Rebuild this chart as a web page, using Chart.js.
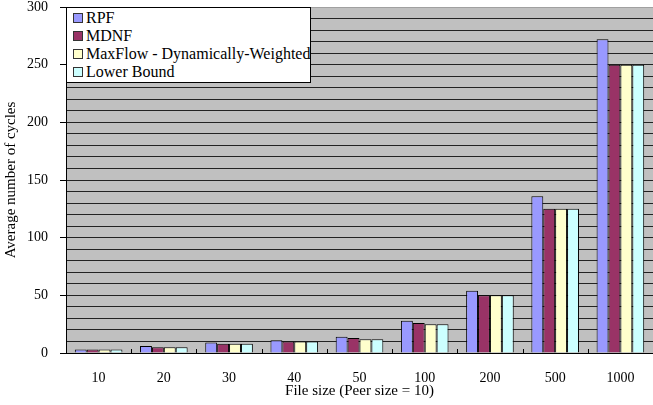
<!DOCTYPE html>
<html lang="en">
<head>
    <meta charset="UTF-8">
    <title>Average number of cycles</title>
    <script src="https://cdn.jsdelivr.net/npm/chart.js"></script>
    <style>
        body { margin: 0; background: #fff; }
        #wrap { position: relative; width: 653px; height: 405px; }
        #legend {
            position: absolute; left: 66px; top: 7px; width: 245px; height: 76px;
            box-sizing: border-box; background: #fff; border: 1px solid #000;
            padding: 1px 0 0 6px; font-family: "Liberation Serif", serif; font-size: 16px; color: #000;
        }
        #legend div { height: 18px; line-height: 18px; white-space: nowrap; }
        #legend span.box {
            display: inline-block; width: 8px; height: 8px; border: 1px solid #333;
            margin-right: 3px; vertical-align: 0px;
        }
    </style>
</head>
<body>
    <div id="wrap">
        <canvas id="chart" width="653" height="405"></canvas>
        <div id="legend"></div>
    </div>

    <script>
        // Данные
        const categories = ['10', '20', '30', '40', '50', '100', '200', '500', '1000'];
        const seriesNames = ['RPF', 'MDNF', 'MaxFlow - Dynamically-Weighted', 'Lower Bound'];
        const rpf = [3, 6, 9, 11, 14, 28, 54, 136, 272];
        const mdnf = [3, 5, 8, 10, 13, 26, 50, 125, 250];
        const maxFlow = [3, 5, 8, 10, 12, 25, 50, 125, 250];
        const lowerBound = [3, 5, 8, 10, 12, 25, 50, 125, 250];
        const colors = ['#9999FF', '#993366', '#FFFFCC', '#CCFFFF'];

        const font = 'Liberation Serif';

        // серый фон области графика
        const plotBg = {
            id: 'plotBg',
            beforeDraw(chart) {
                const { ctx, chartArea: a } = chart;
                ctx.save();
                ctx.fillStyle = '#C0C0C0';
                ctx.fillRect(a.left, a.top, a.right - a.left, a.bottom - a.top);
                ctx.restore();
            },
            afterDatasetsDraw(chart) {
                // короткие риски между категориями
                const { ctx, chartArea: a, scales: { x } } = chart;
                ctx.save();
                ctx.strokeStyle = '#000';
                ctx.lineWidth = 1;
                for (let i = 1; i < categories.length; i++) {
                    const px = Math.round((x.getPixelForValue(i - 1) + x.getPixelForValue(i)) / 2) + 0.5;
                    ctx.beginPath();
                    ctx.moveTo(px, a.bottom);
                    ctx.lineTo(px, a.bottom - 4);
                    ctx.stroke();
                }
                ctx.restore();
            }
        };

        const values = [rpf, mdnf, maxFlow, lowerBound];
        const datasets = seriesNames.map((name, i) => ({
            label: name,
            data: values[i],
            backgroundColor: colors[i],
            borderColor: '#000',
            borderWidth: 1,
            borderSkipped: 'bottom',
            categoryPercentage: 0.73,
            barPercentage: 1.0
        }));

        new Chart(document.getElementById('chart'), {
            type: 'bar',
            data: { labels: categories, datasets: datasets },
            plugins: [plotBg],
            options: {
                responsive: false,
                animation: false,
                layout: { padding: { top: 7, right: 0, left: 0, bottom: 0 } },
                plugins: { legend: { display: false }, tooltip: { enabled: false } },
                scales: {
                    y: {
                        min: 0, max: 300,
                        afterFit(scale) {
                            scale.width = 66;
                            scale.paddingTop = 7;
                            scale.paddingBottom = 0;
                        },
                        ticks: {
                            stepSize: 10,
                            autoSkip: false,
                            color: '#000',
                            padding: 12,
                            font: { family: font, size: 14 },
                            callback: v => (v % 50 === 0 ? v : '')
                        },
                        grid: {
                            color: ctx => (ctx.tick.value === 0 ? 'transparent' : (ctx.tick.value === 300 ? '#A0A0A0' : '#222')),
                            tickColor: ctx => (ctx.tick.value % 50 === 0 ? '#000' : 'transparent'),
                            tickLength: 6
                        },
                        border: { display: true, color: '#000' },
                        title: {
                            display: true,
                            text: 'Average number of cycles',
                            color: '#000',
                            font: { family: font, size: 15 },
                            padding: { top: 2, bottom: 0 }
                        }
                    },
                    x: {
                        afterFit(scale) {
                            scale.height = 52;
                            scale.paddingLeft = 0;
                            scale.paddingRight = 0;
                        },
                        ticks: {
                            color: '#000',
                            padding: 17,
                            font: { family: font, size: 14 }
                        },
                        grid: { drawOnChartArea: false, drawTicks: false },
                        border: { display: true, color: '#000' },
                        title: {
                            display: true,
                            text: 'File size (Peer size = 10)',
                            color: '#000',
                            font: { family: font, size: 15 },
                            padding: { top: 0, bottom: 5 }
                        }
                    }
                }
            }
        });

        // легенда
        const legend = document.getElementById('legend');
        seriesNames.forEach((name, i) => {
            const row = document.createElement('div');
            row.innerHTML = `<span class="box" style="background:${colors[i]}"></span>${name}`;
            legend.appendChild(row);
        });
    </script>
</body>
</html>
